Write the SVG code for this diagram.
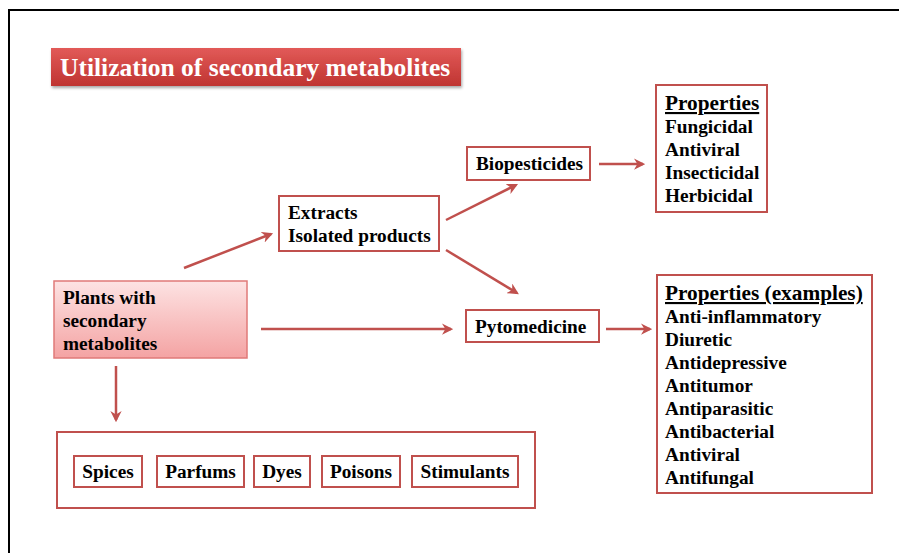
<svg xmlns="http://www.w3.org/2000/svg" width="899" height="553" viewBox="0 0 899 553">
<style>
text{font-family:"Liberation Serif","Times New Roman",serif;font-weight:bold;fill:#000}
.t{font-size:19.3px}
.h{font-size:21.3px;text-decoration:underline}
.box{fill:#fff;stroke:#c0504d;stroke-width:2}
.arr{stroke:#c0504d;stroke-width:2.5;fill:none;marker-end:url(#ah)}
</style>
<defs>
<linearGradient id="gTitle" x1="0" y1="0" x2="0" y2="1">
<stop offset="0" stop-color="#e25a58"/>
<stop offset="1" stop-color="#bf3431"/>
</linearGradient>
<linearGradient id="gPlant" x1="0" y1="0" x2="0" y2="1">
<stop offset="0" stop-color="#fde3e3"/>
<stop offset="1" stop-color="#f4a3a3"/>
</linearGradient>
<marker id="ah" viewBox="0 0 10 10" refX="8" refY="5" markerWidth="4.5" markerHeight="4.5" orient="auto" markerUnits="strokeWidth">
<path d="M0,0 L10,5 L0,10 L3,5 Z" fill="#c0504d"/>
</marker>
<filter id="sh" x="-10%" y="-10%" width="130%" height="140%">
<feDropShadow dx="1" dy="2" stdDeviation="1.5" flood-color="#000" flood-opacity="0.35"/>
</filter>
</defs>
<rect width="899" height="553" fill="#fff"/>
<path d="M9,553 L9,10 L899,10" fill="none" stroke="#000" stroke-width="2"/>

<g id="title">
<rect x="51" y="48" width="410" height="38" fill="url(#gTitle)" filter="url(#sh)"/>
<text x="60" y="76" style="font-size:25.5px;fill:#fff">Utilization of secondary metabolites</text>
</g>

<g id="connectors">
<line class="arr" x1="184" y1="268" x2="271" y2="234"/>
<line class="arr" x1="446" y1="220" x2="516" y2="185"/>
<line class="arr" x1="446" y1="250" x2="517" y2="293"/>
<line class="arr" x1="261" y1="329" x2="451" y2="329"/>
<line class="arr" x1="599" y1="164" x2="643" y2="164"/>
<line class="arr" x1="606" y1="329" x2="650" y2="329"/>
<line class="arr" x1="116" y1="366" x2="116" y2="420"/>
</g>

<g id="plants">
<rect x="54" y="281" width="193" height="77" fill="url(#gPlant)" stroke="#e07a78" stroke-width="1.5"/>
<text class="t" x="63" y="304">Plants with</text>
<text class="t" x="63" y="327">secondary</text>
<text class="t" x="63" y="350">metabolites</text>
</g>

<g id="extracts">
<rect class="box" x="279" y="196" width="160" height="55"/>
<text class="t" x="288" y="219">Extracts</text>
<text class="t" x="288" y="242">Isolated products</text>
</g>

<g id="biopesticides">
<rect class="box" x="467" y="147" width="123" height="33"/>
<text class="t" x="476" y="170">Biopesticides</text>
</g>

<g id="pytomedicine">
<rect class="box" x="466" y="310" width="133" height="32"/>
<text class="t" x="475" y="333">Pytomedicine</text>
</g>

<g id="properties1">
<rect class="box" x="656" y="85" width="111" height="127"/>
<text class="h" x="665" y="110">Properties</text>
<text class="t" x="665" y="133">Fungicidal</text>
<text class="t" x="665" y="156">Antiviral</text>
<text class="t" x="665" y="179">Insecticidal</text>
<text class="t" x="665" y="202">Herbicidal</text>
</g>

<g id="properties2">
<rect class="box" x="657" y="275" width="215" height="218"/>
<text class="h" x="665" y="300">Properties (examples)</text>
<text class="t" x="665" y="323">Anti-inflammatory</text>
<text class="t" x="665" y="346">Diuretic</text>
<text class="t" x="665" y="369">Antidepressive</text>
<text class="t" x="665" y="392">Antitumor</text>
<text class="t" x="665" y="415">Antiparasitic</text>
<text class="t" x="665" y="438">Antibacterial</text>
<text class="t" x="665" y="461">Antiviral</text>
<text class="t" x="665" y="484">Antifungal</text>
</g>

<g id="uses">
<rect class="box" x="57" y="432" width="478" height="76"/>
</g>
<g id="spices">
<rect class="box" x="74" y="456" width="68" height="31"/>
<text class="t" x="108" y="478" text-anchor="middle">Spices</text>
</g>
<g id="parfums">
<rect class="box" x="157" y="456" width="87" height="31"/>
<text class="t" x="200.5" y="478" text-anchor="middle">Parfums</text>
</g>
<g id="dyes">
<rect class="box" x="254" y="456" width="56" height="31"/>
<text class="t" x="282" y="478" text-anchor="middle">Dyes</text>
</g>
<g id="poisons">
<rect class="box" x="322" y="456" width="78" height="31"/>
<text class="t" x="361" y="478" text-anchor="middle">Poisons</text>
</g>
<g id="stimulants">
<rect class="box" x="412" y="456" width="106" height="31"/>
<text class="t" x="465" y="478" text-anchor="middle">Stimulants</text>
</g>
</svg>
